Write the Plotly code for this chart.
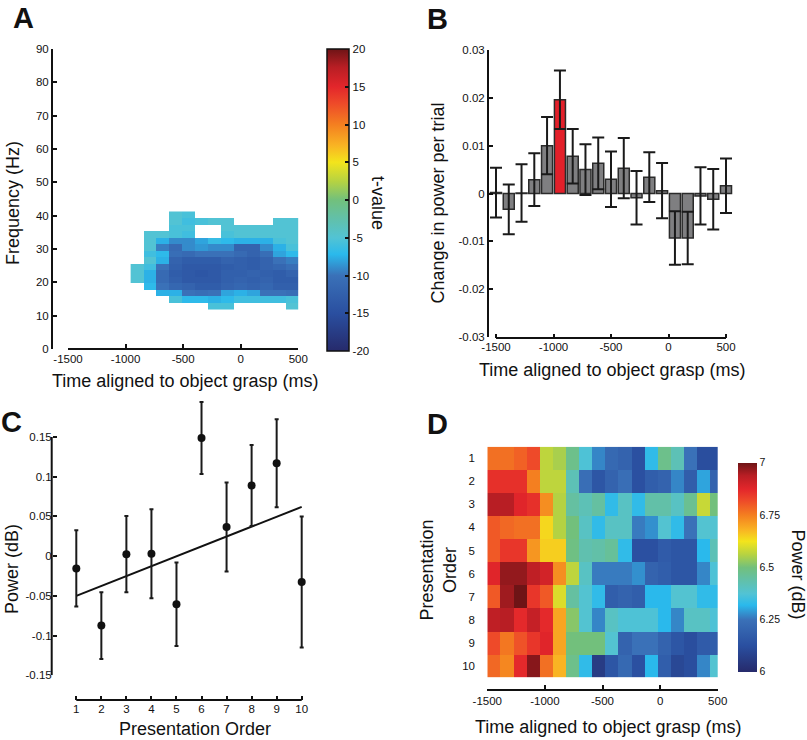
import plotly.graph_objects as go

FONT = "Liberation Sans, Arial, Helvetica, sans-serif"
TXT = "#111111"
W, H = 807, 740

# ---------------- Panel A data (t-values, rows listed top -> bottom) ----------------
a_time_edges = [-956, -844, -732, -620, -508, -396, -284, -172, -60, 52, 164, 276, 388, 500]
a_freq_edges = [12.0, 13.95, 15.9, 17.85, 19.8, 21.75, 23.7, 25.65, 27.6, 29.55,
                31.5, 33.45, 35.4, 37.35, 39.3, 41.25]
N = None
a_tvalue_rows_top_down = [
    [N, N, N, -5, -5.5, N, N, N, N, N, N, N, N],
    [N, N, N, -5, -6, -5.5, -5, -5, N, N, N, -5, -5],
    [N, N, N, -5.5, -5.5, N, N, -5, -5, -5, -5, -5, -5],
    [N, -5, -5, -5.5, -6, N, N, -5.5, -5, -5, -5, -5, -5],
    [N, -5, -7.5, -9, -9, -8, -6.5, -7, -7.5, -7.5, -7.5, -5.5, -5],
    [N, -5, -9.5, -11, -9, -8.5, -9, -9, -12, -12, -9, -7.5, -5.5],
    [N, -6, -7, -10.5, -11, -10, -10, -10, -11, -12, -10.5, -8, -7],
    [N, -5, -7.5, -12, -13, -13, -13, -12, -12.5, -13, -12, -10, -9.5],
    [-5, -6, -10, -12.5, -13.5, -13.5, -13.5, -13, -12.5, -13, -12, -11.5, -10.5],
    [-5, -7.5, -11, -13, -13.5, -14, -13.5, -12.5, -12.5, -12, -12.5, -13, -12],
    [-5, -7.5, -11, -12.5, -13.5, -13.5, -13.5, -12.5, -12, -12.5, -12, -13, -13],
    [N, -7, -10, -11.5, -12, -13, -13, -12, -11.5, -12, -11.5, -12.5, -12.5],
    [N, N, -7.5, -7.5, -10, -10.5, -10, -8, -7.5, -8, -10, -10, -10.5],
    [N, N, N, -5.5, -7, -7, -7.5, -7, -6, -6, -6, -6, -5.5],
    [N, N, N, N, N, N, -5.5, -5.5, N, N, N, N, -5],
]
a_cbar_ticks = [-20, -15, -10, -5, 0, 5, 10, 15, 20]
a_x_ticks = [-1500, -1000, -500, 0, 500]
a_y_ticks = [0, 10, 20, 30, 40, 50, 60, 70, 80, 90]

# ---------------- Panel B data ----------------
b_time = [-1500, -1389, -1278, -1167, -1056, -944, -833, -722, -611, -500,
          -389, -278, -167, -56, 56, 167, 278, 389, 500]
b_change = [0.0002, -0.0033, 0.0001, 0.0029, 0.0100, 0.0196, 0.0078, 0.0050, 0.0063, 0.0030,
            0.0053, -0.0009, 0.0034, 0.0006, -0.0093, -0.0093, -0.0005, -0.0012, 0.0016]
b_err = [0.0052, 0.0052, 0.0060, 0.0055, 0.0060, 0.0061, 0.0057, 0.0053, 0.0054, 0.0058,
         0.0063, 0.0056, 0.0052, 0.0058, 0.0056, 0.0055, 0.0060, 0.0063, 0.0057]
b_highlight = 5
b_y_ticks = [-0.03, -0.02, -0.01, 0, 0.01, 0.02, 0.03]
b_y_labels = ["-0.03", "-0.02", "-0.01", "0", "0.01", "0.02", "0.03"]

# ---------------- Panel C data ----------------
c_order = [1, 2, 3, 4, 5, 6, 7, 8, 9, 10]
c_power = [-0.0155, -0.0874, 0.0025, 0.003, -0.0605, 0.1487, 0.0366, 0.089, 0.117, -0.0325]
c_err = [0.048, 0.042, 0.048, 0.056, 0.0525, 0.0453, 0.056, 0.051, 0.0555, 0.0825]
c_fit_x = [1, 10]
c_fit_y = [-0.050, 0.062]
c_y_ticks = [-0.15, -0.1, -0.05, 0, 0.05, 0.1, 0.15]
c_y_labels = ["-0.15", "-0.1", "-0.05", "0", "0.05", "0.1", "0.15"]

# ---------------- Panel D data (rows = presentation order 1..10) ----------------
d_time_edges = [-1500, -1386, -1272, -1158, -1044, -930, -816, -702, -588, -474,
                -360, -246, -132, -18, 96, 210, 324, 438, 552]
d_order = [1, 2, 3, 4, 5, 6, 7, 8, 9, 10]
d_power = [
    [6.77, 6.77, 6.79, 6.82, 6.57, 6.55, 6.48, 6.37, 6.27, 6.22, 6.20, 6.13, 6.33, 6.48, 6.42, 6.25, 6.12, 6.12],
    [6.86, 6.86, 6.86, 6.75, 6.57, 6.57, 6.42, 6.24, 6.15, 6.20, 6.24, 6.13, 6.18, 6.20, 6.27, 6.18, 6.30, 6.20],
    [6.94, 6.94, 6.88, 6.86, 6.73, 6.56, 6.45, 6.42, 6.45, 6.33, 6.40, 6.33, 6.44, 6.44, 6.40, 6.47, 6.58, 6.50],
    [6.80, 6.78, 6.77, 6.77, 6.64, 6.56, 6.50, 6.40, 6.33, 6.40, 6.40, 6.26, 6.28, 6.38, 6.33, 6.25, 6.38, 6.38],
    [6.80, 6.85, 6.85, 6.72, 6.65, 6.65, 6.49, 6.43, 6.44, 6.46, 6.33, 6.13, 6.13, 6.17, 6.15, 6.15, 6.32, 6.42],
    [6.88, 6.97, 6.97, 6.93, 6.90, 6.73, 6.57, 6.40, 6.26, 6.26, 6.26, 6.28, 6.20, 6.18, 6.15, 6.15, 6.27, 6.37],
    [6.80, 6.96, 7.00, 6.85, 6.80, 6.60, 6.45, 6.38, 6.33, 6.18, 6.20, 6.18, 6.32, 6.32, 6.38, 6.38, 6.33, 6.33],
    [6.93, 6.94, 6.87, 6.92, 6.87, 6.70, 6.52, 6.38, 6.27, 6.40, 6.37, 6.37, 6.37, 6.32, 6.27, 6.40, 6.40, 6.37],
    [6.82, 6.76, 6.81, 6.85, 6.88, 6.70, 6.50, 6.50, 6.50, 6.38, 6.20, 6.25, 6.25, 6.20, 6.15, 6.12, 6.17, 6.18],
    [6.78, 6.74, 6.87, 6.98, 6.77, 6.68, 6.48, 6.33, 6.06, 6.15, 6.22, 6.13, 6.32, 6.18, 6.10, 6.12, 6.27, 6.38],
]
d_cbar_ticks = [6, 6.25, 6.5, 6.75, 7]
d_cbar_labels = ["6", "6.25", "6.5", "6.75", "7"]

JET = [
    [0.0, "#262a6b"], [0.125, "#2a4fa0"], [0.25, "#3a71b8"], [0.32, "#2ab9ec"],
    [0.375, "#52c3d4"], [0.44, "#62c0a8"], [0.5, "#72c07c"], [0.56, "#b4d243"],
    [0.625, "#f3e41c"], [0.68, "#f9b423"], [0.75, "#f47f20"], [0.82, "#ee4a29"],
    [0.875, "#e3262b"], [0.94, "#b81e24"], [1.0, "#6e1416"],
]


def px(x):
    return x / W


def py(y):
    return 1 - y / H


def lab(v):
    return str(v)


TICKFONT = dict(family=FONT, size=11.5, color=TXT)

fig = go.Figure()

# Panel A heatmap
fig.add_trace(go.Heatmap(
    x=a_time_edges, y=a_freq_edges, z=a_tvalue_rows_top_down[::-1],
    colorscale=JET, zmin=-20, zmax=20, xaxis="x", yaxis="y",
    colorbar=dict(x=px(327), xanchor="left", y=py(351), yanchor="bottom",
                  len=302 / H, lenmode="fraction", thickness=22, thicknessmode="pixels",
                  xpad=0, ypad=0, outlinewidth=1.5, outlinecolor="#111",
                  tickvals=a_cbar_ticks, ticktext=[lab(v) for v in a_cbar_ticks],
                  ticks="inside", ticklen=4, tickwidth=1.5, tickcolor="#111",
                  tickfont=TICKFONT),
))

# Panel B bars
fig.add_trace(go.Bar(
    x=b_time, y=b_change, width=96, xaxis="x2", yaxis="y2",
    marker=dict(color=["#e3202a" if i == b_highlight else "#7f7f81" for i in range(len(b_time))],
                line=dict(color="#2b2b2b", width=1.5)),
    error_y=dict(type="data", array=b_err, visible=True, color="#1a1a1a", thickness=2, width=6),
    cliponaxis=False, showlegend=False,
))

# Panel C scatter + fit
fig.add_trace(go.Scatter(
    x=c_fit_x, y=c_fit_y, mode="lines", xaxis="x3", yaxis="y3",
    line=dict(color="#111", width=2), showlegend=False,
))
fig.add_trace(go.Scatter(
    x=c_order, y=c_power, mode="markers", xaxis="x3", yaxis="y3",
    marker=dict(color="#111", size=8),
    error_y=dict(type="data", array=c_err, visible=True, color="#1a1a1a", thickness=2, width=2),
    cliponaxis=False, showlegend=False,
))

# Panel D heatmap
fig.add_trace(go.Heatmap(
    x=d_time_edges, y=d_order, z=d_power, colorscale=JET, zmin=6, zmax=7,
    xaxis="x4", yaxis="y4",
    colorbar=dict(x=px(738.3), xanchor="left", y=py(671.7), yanchor="bottom",
                  len=209 / H, lenmode="fraction", thickness=19, thicknessmode="pixels",
                  xpad=0, ypad=0, outlinewidth=0,
                  tickvals=d_cbar_ticks, ticktext=d_cbar_labels, ticks="",
                  tickfont=dict(family=FONT, size=10.5, color=TXT)),
))

axis_common = dict(showline=True, linecolor="#111", linewidth=2, ticks="inside", ticklen=4,
                   tickwidth=1.5, tickcolor="#111", showgrid=False, zeroline=False,
                   tickfont=TICKFONT)
axis_noline = dict(axis_common, showline=False)

# pixel scales used to widen data areas beyond the drawn axis lines
b_ppm = 230 / 2000          # px per ms in panel B
c_ppx = (301.7 - 76.3) / 9  # px per order unit in panel C
c_ppy = (675.3 - 437) / 0.3  # px per dB in panel C

fig.update_layout(
    width=W, height=H,
    margin=dict(l=0, r=0, t=0, b=0, pad=0, autoexpand=False),
    paper_bgcolor="white", plot_bgcolor="white", showlegend=False,
    font=dict(family=FONT, color=TXT),
    # Panel A
    xaxis=dict(domain=[px(68), px(298.3)], range=[-1500, 500], anchor="free", position=py(348.5),
               tickvals=a_x_ticks, ticktext=[lab(v) for v in a_x_ticks], **axis_common),
    yaxis=dict(domain=[py(349), py(49)], range=[0, 90], anchor="free", position=px(52),
               tickvals=a_y_ticks, ticktext=[lab(v) for v in a_y_ticks], **axis_common),
    # Panel B
    xaxis2=dict(domain=[px(496 - 100 * b_ppm), px(726 + 100 * b_ppm)], range=[-1600, 600],
                anchor="free", position=py(338),
                tickvals=a_x_ticks, ticktext=[lab(v) for v in a_x_ticks], **axis_noline),
    yaxis2=dict(domain=[py(337), py(50)], range=[-0.03, 0.03], anchor="free", position=px(488),
                tickvals=b_y_ticks, ticktext=b_y_labels, **axis_common),
    # Panel C
    xaxis3=dict(domain=[px(76.3 - 0.5 * c_ppx), px(301.7 + 0.5 * c_ppx)], range=[0.5, 10.5],
                anchor="free", position=py(700),
                tickvals=c_order, ticktext=[str(v) for v in c_order], **axis_noline),
    yaxis3=dict(domain=[py(675.3), py(437 - 0.06 * c_ppy)], range=[-0.15, 0.21],
                anchor="free", position=px(51.7),
                tickvals=c_y_ticks, ticktext=c_y_labels, **axis_noline),
    # Panel D
    xaxis4=dict(domain=[px(487.3), px(717.7)], range=[-1500, 500], anchor="free", position=py(690),
                tickvals=a_x_ticks, ticktext=[lab(v) for v in a_x_ticks], **axis_common),
    yaxis4=dict(domain=[py(677.3), py(446.7)], range=[10.5, 0.5], anchor="x4",
                showline=False, showgrid=False, zeroline=False, ticks="outside", ticklen=9,
                tickcolor="rgba(0,0,0,0)", tickvals=d_order, ticktext=[str(v) for v in d_order],
                tickfont=TICKFONT),
)

# axis lines spanning only the labelled range (offset MATLAB-style axes)
line_style = dict(color="#111", width=2)
fig.add_shape(type="line", xref="x2", yref="paper", x0=a_x_ticks[0], x1=a_x_ticks[-1],
              y0=py(338), y1=py(338), line=line_style)
fig.add_shape(type="line", xref="x3", yref="paper", x0=c_order[0], x1=c_order[-1],
              y0=py(700), y1=py(700), line=line_style)
fig.add_shape(type="line", xref="paper", yref="y3", x0=px(51.7), x1=px(51.7),
              y0=c_y_ticks[0], y1=c_y_ticks[-1], line=line_style)

title_font = dict(family=FONT, size=18, color=TXT)
letter_font = dict(family=FONT, size=29, color="#111")
annots = [
    ("Frequency (Hz)", 13, 203, -90, title_font),
    ("Time aligned to object grasp (ms)", 185, 381, 0, title_font),
    ("t-value", 378, 203, 90, title_font),
    ("Change in power per trial", 437.5, 203, -90, title_font),
    ("Time aligned to object grasp (ms)", 612, 370, 0, title_font),
    ("Power (dB)", 12, 569, -90, title_font),
    ("Presentation Order", 195, 728.5, 0, title_font),
    ("Presentation<br>Order", 437.5, 570, -90, title_font),
    ("Time aligned to object grasp (ms)", 608, 727, 0, title_font),
    ("Power (dB)", 797.5, 574, 90, title_font),
    ("<b>A</b>", 23, 18, 0, letter_font),
    ("<b>B</b>", 437, 19, 0, letter_font),
    ("<b>C</b>", 11, 422, 0, letter_font),
    ("<b>D</b>", 437, 424, 0, letter_font),
]
for text, x, y, ang, f in annots:
    fig.add_annotation(text=text, x=px(x), y=py(y), xref="paper", yref="paper",
                       xanchor="center", yanchor="middle", showarrow=False,
                       textangle=ang, font=f)

fig.write_html(
    "out.html",
    config={"displayModeBar": False},
    post_script="document.body.style.margin='0';document.body.style.padding='0';"
                "document.body.style.overflow='hidden';",
)
